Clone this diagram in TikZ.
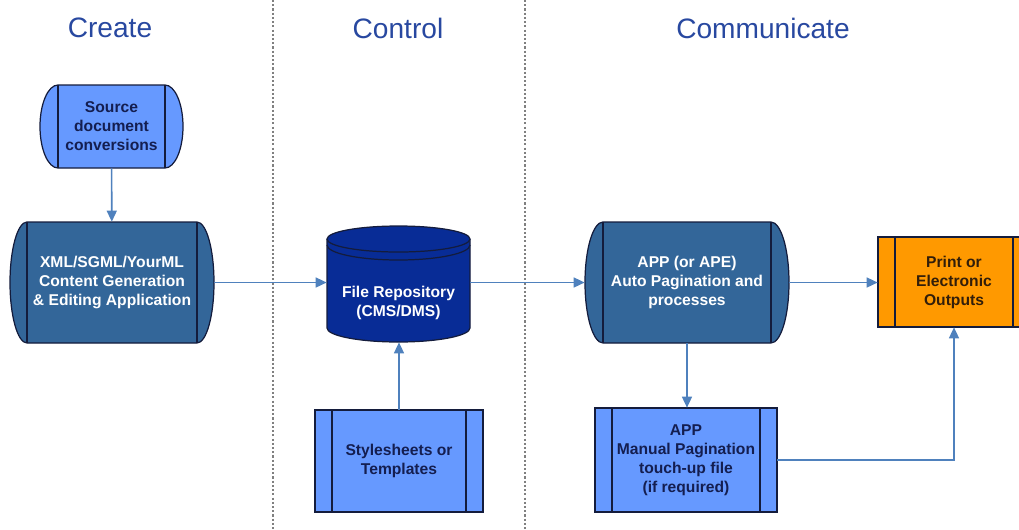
\documentclass[tikz,border=0pt]{standalone}
\usepackage{fontspec}
\setmainfont{Liberation Sans}
\usetikzlibrary{arrows.meta}
\definecolor{headColor}{RGB}{40,72,160}
\definecolor{lightBox}{RGB}{102,153,255}
\definecolor{midBox}{RGB}{51,102,153}
\definecolor{darkBox}{RGB}{8,44,150}
\definecolor{outBox}{RGB}{255,153,0}
\definecolor{edgeColor}{RGB}{20,28,60}
\definecolor{arrowColor}{RGB}{79,129,189}
\definecolor{navyText}{RGB}{20,30,80}
\definecolor{brownText}{RGB}{50,30,10}
\tikzstyle{pixels} = [x = 0.02cm, y = -0.02cm]
\tikzstyle{boxStyle} = [draw=edgeColor, line width=0.7pt]
\tikzstyle{boxText} = [font=\bfseries\fontsize{8.9}{10.8}\selectfont, align=center, inner sep=0pt]
\tikzstyle{flowArrow} = [draw=arrowColor, line width=0.9pt, -{Triangle[length=2.2mm, width=2mm]}]
\tikzstyle{laneLine} = [draw=gray, line width=1.1pt, dash pattern=on 1.2pt off 1.2pt]
\tikzstyle{laneTitle} = [font=\fontsize{16}{19}\selectfont, text=headColor]
\newcommand{\px}{0.02cm}
\newcommand{\processBox}[9]{
  \filldraw [boxStyle, fill=#7] (#2,#4) rectangle (#3,#5);
  \draw [boxStyle] (#2 + #6,#4) -- (#2 + #6,#5) (#3 - #6,#4) -- (#3 - #6,#5);
  \node [boxText, text=#8, minimum width={(#3 - #2) * \px}, minimum height={(#5 - #4) * \px}]
    (#1) at ({(#2 + #3) / 2}, {(#4 + #5) / 2}) {#9};
}
\newcommand{\terminatorBox}[9]{
  \filldraw [boxStyle, fill=#7] (#2,#4) -- (#3,#4)
    arc [start angle=-90, end angle=90, x radius=#6, y radius={(#5-#4)/2}] -- (#2,#5)
    arc [start angle=90, end angle=270, x radius=#6, y radius={(#5-#4)/2}] -- cycle;
  \draw [boxStyle] (#2,#4) -- (#2,#5) (#3,#4) -- (#3,#5);
  \node [boxText, text=#8, minimum width={(#3 - #2 + 2 * #6) * \px}, minimum height={(#5 - #4) * \px}]
    (#1) at ({(#2 + #3) / 2}, {(#4 + #5) / 2}) {#9};
}
\begin{document}
\begin{tikzpicture}[pixels]
  \useasboundingbox (0,0) rectangle (1019,529);
  \clip (0,0) rectangle (1019,529);

  % lanes
  \draw [laneLine] (273,0) -- (273,529);
  \draw [laneLine] (525,0) -- (525,529);
  \node [laneTitle] (createTitle) at (110,28) {Create};
  \node [laneTitle] (controlTitle) at (398,28) {Control};
  \node [laneTitle] (communicateTitle) at (763,28) {Communicate};

  % create
  \terminatorBox{source}{58}{165}{85}{168}{18}{lightBox}{navyText}{Source\\document\\conversions}
  \terminatorBox{xml}{27}{197}{222}{343}{17}{midBox}{white}{XML/SGML/YourML\\Content Generation\\\& Editing Application}

  % control
  \filldraw [boxStyle, fill=darkBox] (327,239) -- (327,328)
    arc [start angle=180, end angle=0, x radius=71.5, y radius=14] -- (470,239);
  \filldraw [boxStyle, fill=darkBox] (398.5,239) ellipse [x radius=71.5, y radius=13];
  \draw [boxStyle] (327,245) arc [start angle=180, end angle=0, x radius=71.5, y radius=15];
  \node [minimum width={143 * \px}, minimum height={116 * \px}, inner sep=0pt] (repo) at (398.5,284) {};
  \node [boxText, text=white] (repoText) at (398.5,303) {File Repository\\(CMS/DMS)};
  \processBox{styles}{315}{483}{410}{512}{17}{lightBox}{navyText}{Stylesheets or\\Templates}

  % communicate
  \terminatorBox{app}{603}{771}{222}{343}{18}{midBox}{white}{APP (or APE)\\Auto Pagination and\\processes}
  \processBox{manual}{595}{777}{408}{512}{17}{lightBox}{navyText}{APP\\Manual Pagination\\touch-up file\\(if required)}
  \processBox{output}{878}{1030}{237}{327}{17}{outBox}{brownText}{Print or\\Electronic\\Outputs}

  % connectors
  \draw [flowArrow] (source) -- (xml);
  \draw [flowArrow] (xml) -- (xml -| repo.west);
  \draw [flowArrow] (styles) -- (styles |- repo.south);
  \draw [flowArrow] (repo.east |- app) -- (app);
  \draw [flowArrow] (app) -- (app -| output.west);
  \draw [flowArrow] (app) -- (app |- manual.north);
  \draw [flowArrow] (manual) -| (output);
\end{tikzpicture}
\end{document}
